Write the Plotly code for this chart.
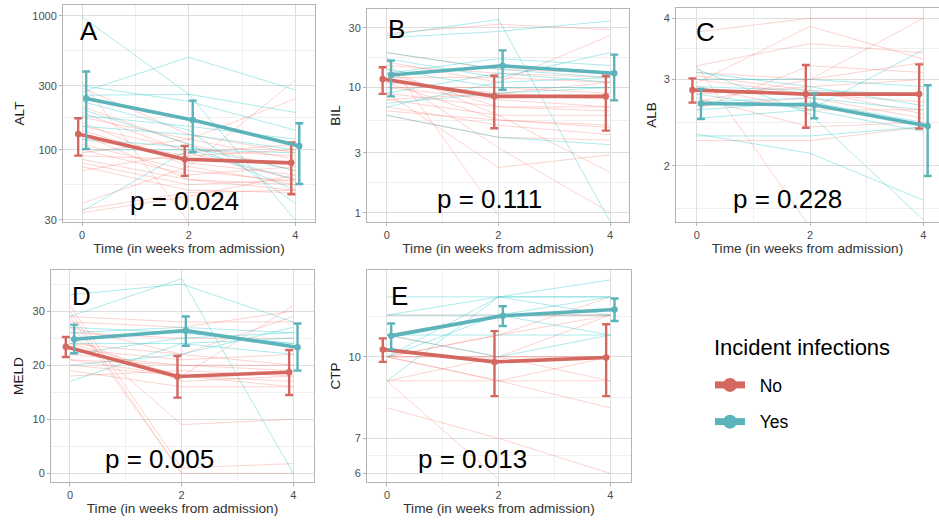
import plotly.graph_objects as go

# ---------------- data ----------------
TIME = [0, 2, 4]
GROUPS = ["No", "Yes"]

# Panel A: ALT
ALT_mean_no = [131, 85, 80]
ALT_lo_no = [90.6, 64, 46.7]
ALT_hi_no = [172, 107, 113.5]
ALT_mean_yes = [241, 167, 107]
ALT_lo_yes = [101.6, 96, 55.7]
ALT_hi_yes = [384, 233, 158]
ALT_ind_no = [
    [320, 29, None], [290, 130, 95], [210, 110, 70], [190, 95, 60], [175, 120, 85],
    [160, 75, 55], [150, 100, 90], [140, 80, 65], [120, 90, 100], [110, 70, 58],
    [100, 65, 75], [90, 85, 80], [85, 60, 50], [80, 55, 60], [75, 50, 48],
    [70, 95, 110], [36, 48, 50], [34, 45, 65], [40, 75, 330], [95, 120, 240],
    [130, 60, 55],
]
ALT_ind_yes = [
    [980, 260, 30], [270, 490, 280], [255, 260, 190], [300, 230, 140], [230, 140, 40],
    [200, 110, 50], [150, 130, 100], [120, 105, 70], [100, 100, 95], [35, 100, 60],
    [180, 150, 120],
]

# Panel B: BIL
BIL_mean_no = [11.7, 8.5, 8.5]
BIL_lo_no = [8.9, 4.73, 4.53]
BIL_hi_no = [14.5, 12.4, 12.4]
BIL_mean_yes = [12.6, 14.9, 13.0]
BIL_lo_yes = [8.5, 9.6, 7.9]
BIL_hi_yes = [16.4, 19.8, 18.3]
BIL_ind_no = [
    [27, 32, 29], [16, 11, 26], [17, 0.95, None], [13, 3.3, 1.0], [9, 2.3, 2.9],
    [14, 6, 2.1], [8, 6, 6], [10, 8, 7], [11, 9, 8], [7, 5, 4.2], [6.5, 5.5, 5],
    [12, 12, 11], [15, 13, 12], [9, 7, 6.5], [10, 10, 9], [13, 7, 7], [11, 5.5, 4.8],
    [8, 9, 11], [19, 14, 13], [6, 4, 3.8],
]
BIL_ind_yes = [
    [26, 35, 0.85], [25, 28, 34], [19, 14, 12], [17, 12, 19], [7, 11, 12],
    [6, 4, 3.5], [7.5, 9, 10], [14, 10, 10], [13, 17, 15], [9, 13, 11],
]

# Panel C: ALB
ALB_mean_no = [2.855, 2.80, 2.80]
ALB_lo_no = [2.69, 2.39, 2.38]
ALB_hi_no = [3.015, 3.21, 3.22]
ALB_mean_yes = [2.68, 2.66, 2.41]
ALB_lo_yes = [2.49, 2.50, 1.905]
ALB_hi_yes = [2.87, 2.81, 2.92]
ALB_ind_no = [
    [3.75, 4.0, 4.0], [2.95, 3.85, 3.3], [3.2, 3.55, 3.4], [3.2, 1.5, None],
    [2.25, 2.25, 2.4], [2.7, 3.0, 3.25], [2.8, 2.9, 3.0], [3.0, 2.8, 2.7],
    [2.65, 2.75, 2.5], [3.1, 3.0, 4.0], [2.9, 2.6, 2.6], [2.75, 2.4, 2.45],
    [3.05, 2.85, 2.55], [2.6, 3.2, 3.1],
]
ALB_ind_yes = [
    [3.15, 2.55, 1.55], [2.32, 2.12, 1.7], [2.3, 2.3, 2.4], [2.5, 2.6, 3.45],
    [3.0, 3.0, 2.9], [2.9, 2.85, 2.8], [2.7, 2.75, 2.6], [3.1, 2.9, 2.65],
    [2.8, 2.6, 2.35], [2.6, 2.7, 2.45],
]

# Panel D: MELD
MELD_mean_no = [23.4, 17.9, 18.7]
MELD_lo_no = [21.5, 14.0, 14.5]
MELD_hi_no = [25.2, 21.7, 22.8]
MELD_mean_yes = [24.8, 26.4, 23.3]
MELD_lo_yes = [22.2, 23.6, 19.0]
MELD_hi_yes = [27.5, 29.0, 27.7]
MELD_ind_no = [
    [30, 0, None], [31, 1, 1.8], [29, 0, 0], [27, 9, 10], [21, 18, 31],
    [28, 27, 30], [26, 25, 25], [24, 22, 20], [22, 20, 19], [20, 18, 17],
    [19, 16, 16], [18, 19, 18], [23, 21, 22], [25, 17, 18], [21, 20, 20],
    [27, 22, 29], [24, 18, 16], [29, 28, 28],
]
MELD_ind_yes = [
    [33, 35, 28], [29, 36, 0], [17, 24, 25], [20, 22, 27], [22, 25, 26],
    [26, 27, 26], [25, 26, 24], [24, 24, 22], [27, 26, 24],
]

# Panel E: CTP
CTP_mean_no = [10.33, 9.78, 9.97]
CTP_lo_no = [9.78, 8.42, 8.42]
CTP_hi_no = [10.84, 11.19, 11.53]
CTP_mean_yes = [10.96, 11.97, 12.3]
CTP_lo_yes = [10.33, 11.44, 11.7]
CTP_hi_yes = [11.57, 12.48, 12.91]
CTP_ind_no = [
    [12, 12, 12], [10, 10, 10], [9, 10, 12], [10, 11, 13], [10, 9, 8],
    [8, 7, 6], [9, 5.85, None], [10, 10, 9], [11, 10, 10], [10, 11, 12],
    [11, 12, 12], [10, 9, 10], [9, 9, 9],
]
CTP_ind_yes = [
    [12, 13, 14], [13, 13, 13], [9, 13, 13], [10, 13, 12], [11, 12, 13],
    [11, 10, 11], [12, 12, 11], [11, 11, 11], [10, 12, 12],
]

P_VALUES = ["p = 0.024", "p = 0.111", "p = 0.228", "p = 0.005", "p = 0.013"]
LETTERS = ["A", "B", "C", "D", "E"]
Y_TITLES = ["ALT", "BIL", "ALB", "MELD", "CTP"]
X_TITLE = "Time (in weeks from admission)"
LEGEND_TITLE = "Incident infections"

# ---------------- styling ----------------
W, H = 939, 520
FONT = "Liberation Sans, Arial, sans-serif"
RED = "#D4675F"
TEAL = "#5CB3BA"
RED_THIN = "rgba(248,118,109,0.36)"
TEAL_THIN = "rgba(0,191,196,0.36)"
GRID = "#DEDEDE"
MINOR = "#EFEFEF"
BORDER = "#B3B3B3"
TICKTXT = "#4D4D4D"
DODGE = 0.075


def dx(px0, px1):
    return [px0 / W, min(px1 / W, 1.0)]


def dy(py_top, py_bot):
    return [1 - py_bot / H, 1 - py_top / H]


panels = [
    dict(mean=(ALT_mean_no, ALT_mean_yes), lo=(ALT_lo_no, ALT_lo_yes), hi=(ALT_hi_no, ALT_hi_yes),
         ind=(ALT_ind_no, ALT_ind_yes), log=True, yrange=[1.462, 3.08],
         ticks=[30, 100, 300, 1000], minor=[54.8, 173, 548],
         xdom=dx(63, 315), ydom=dy(5, 222), xrange=[-0.36, 4.37], ystand=4),
    dict(mean=(BIL_mean_no, BIL_mean_yes), lo=(BIL_lo_no, BIL_lo_yes), hi=(BIL_hi_no, BIL_hi_yes),
         ind=(BIL_ind_no, BIL_ind_yes), log=True, yrange=[-0.074, 1.627],
         ticks=[1, 3, 10, 30], minor=[1.73, 5.48, 17.3],
         xdom=dx(367, 629), ydom=dy(9, 222), xrange=[-0.355, 4.34], ystand=4),
    dict(mean=(ALB_mean_no, ALB_mean_yes), lo=(ALB_lo_no, ALB_lo_yes), hi=(ALB_hi_no, ALB_hi_yes),
         ind=(ALB_ind_no, ALB_ind_yes), log=True, yrange=[0.186, 0.623],
         ticks=[2, 3, 4], minor=[1.633, 2.449, 3.464],
         xdom=dx(676, 939), ydom=dy(8, 222), xrange=[-0.365, 4.275], ystand=3),
    dict(mean=(MELD_mean_no, MELD_mean_yes), lo=(MELD_lo_no, MELD_lo_yes), hi=(MELD_hi_no, MELD_hi_yes),
         ind=(MELD_ind_no, MELD_ind_yes), log=False, yrange=[-1.6, 37.6],
         ticks=[0, 10, 20, 30], minor=[5, 15, 25, 35],
         xdom=dx(51, 314), ydom=dy(270, 482), xrange=[-0.34, 4.37], ystand=5),
    dict(mean=(CTP_mean_no, CTP_mean_yes), lo=(CTP_lo_no, CTP_lo_yes), hi=(CTP_hi_no, CTP_hi_yes),
         ind=(CTP_ind_no, CTP_ind_yes), log=True, yrange=[0.762, 1.165],
         ticks=[6, 7, 10], minor=[6.48, 8.37, 11.95],
         xdom=dx(367, 631), ydom=dy(270, 482), xrange=[-0.358, 4.37], ystand=4),
]

fig = go.Figure()
layout = dict(
    width=W, height=H, margin=dict(l=0, r=0, t=0, b=0, autoexpand=False),
    paper_bgcolor="white", plot_bgcolor="white",
    font=dict(family=FONT, color="#1A1A1A"),
    showlegend=True,
)
annotations = []

# title positions (px): letters and p-values
LETTER_POS = [(78, 31), (386, 29), (694, 32), (70, 296), (389, 296)]
P_POS = [(184, 201), (489, 199), (787, 199), (159, 459), (473, 459)]

for i, p in enumerate(panels):
    k = "" if i == 0 else str(i + 1)
    xa, ya = "x" + k, "y" + k
    colors_thin = (RED_THIN, TEAL_THIN)
    colors = (RED, TEAL)
    # individual trajectories
    for g in range(2):
        for traj in p["ind"][g]:
            fig.add_trace(go.Scatter(
                x=TIME, y=traj, mode="lines", xaxis=xa, yaxis=ya,
                line=dict(color=colors_thin[g], width=0.9),
                hoverinfo="skip", showlegend=False, connectgaps=False))
    # means with error bars
    for g in range(2):
        off = -DODGE if g == 0 else DODGE
        m = p["mean"][g]
        lo = p["lo"][g]
        hi = p["hi"][g]
        fig.add_trace(go.Scatter(
            x=[t + off for t in TIME], y=m, mode="lines+markers", xaxis=xa, yaxis=ya,
            line=dict(color=colors[g], width=3.6),
            marker=dict(color=colors[g], size=6.5),
            error_y=dict(type="data", symmetric=False,
                         array=[h - v for h, v in zip(hi, m)],
                         arrayminus=[v - l for v, l in zip(m, lo)],
                         color=colors[g], thickness=2.4, width=4),
            showlegend=False, name=GROUPS[g]))

    is_c = (i == 2)
    layout["xaxis" + k] = dict(
        domain=p["xdom"], anchor=ya, range=p["xrange"], automargin=False,
        tickvals=TIME, ticktext=[str(t) for t in TIME],
        showgrid=True, gridcolor=GRID, gridwidth=1,
        minor=dict(tickvals=[1, 3], showgrid=True, gridcolor=MINOR, gridwidth=1, ticklen=0),
        zeroline=False, showline=True, mirror=True, linecolor=BORDER, linewidth=1,
        ticks="outside", ticklen=3, tickcolor=BORDER,
        tickfont=dict(size=11, color=TICKTXT, family=FONT),
        title=dict(text=X_TITLE, font=dict(size=13.6, color="#333333", family=FONT), standoff=3),
    )
    layout["yaxis" + k] = dict(
        domain=p["ydom"], anchor=xa, range=p["yrange"], automargin=False,
        type="log" if p["log"] else "linear",
        tickvals=p["ticks"], ticktext=[str(t) for t in p["ticks"]],
        showgrid=True, gridcolor=GRID, gridwidth=1,
        minor=dict(tickvals=p["minor"], showgrid=True, gridcolor=MINOR, gridwidth=1, ticklen=0),
        zeroline=False, showline=True, mirror=(not is_c), linecolor=BORDER, linewidth=1,
        ticks="outside", ticklen=3, tickcolor=BORDER,
        tickfont=dict(size=11, color=TICKTXT, family=FONT),
        title=dict(text=Y_TITLES[i], font=dict(size=13.6, color="#1A1A1A", family=FONT),
                   standoff=p["ystand"]),
    )
    lx, ly = LETTER_POS[i]
    annotations.append(dict(text=LETTERS[i], x=lx / W, y=1 - ly / H, xref="paper", yref="paper",
                            xanchor="left", yanchor="middle", showarrow=False,
                            font=dict(size=26, color="black", family=FONT)))
    px, py = P_POS[i]
    annotations.append(dict(text=P_VALUES[i], x=px / W, y=1 - py / H, xref="paper", yref="paper",
                            xanchor="center", yanchor="middle", showarrow=False,
                            font=dict(size=26, color="black", family=FONT)))

# legend title as text, legend entries below it
annotations.append(dict(text=LEGEND_TITLE, x=712 / W, y=1 - 347 / H, xref="paper", yref="paper",
                        xanchor="left", yanchor="middle", showarrow=False,
                        font=dict(size=22, color="black", family=FONT)))
for g in range(2):
    fig.add_trace(go.Scatter(
        x=[None], y=[None], mode="lines+markers", name="\u00a0\u00a0" + GROUPS[g],
        line=dict(color=(RED, TEAL)[g], width=7),
        marker=dict(color=(RED, TEAL)[g], size=14),
        legendgroup=GROUPS[g], showlegend=True, xaxis="x", yaxis="y"))

layout["annotations"] = annotations
layout["legend"] = dict(
    x=710 / W, y=1 - 367 / H, xanchor="left", yanchor="top",
    font=dict(size=17.5, color="black", family=FONT),
    bgcolor="rgba(0,0,0,0)", tracegroupgap=11, itemwidth=30,
)
fig.update_layout(**layout)
fig.write_html("out.html", config={"displayModeBar": False},
               post_script="document.body.style.margin='0px';document.body.style.padding='0px';")
